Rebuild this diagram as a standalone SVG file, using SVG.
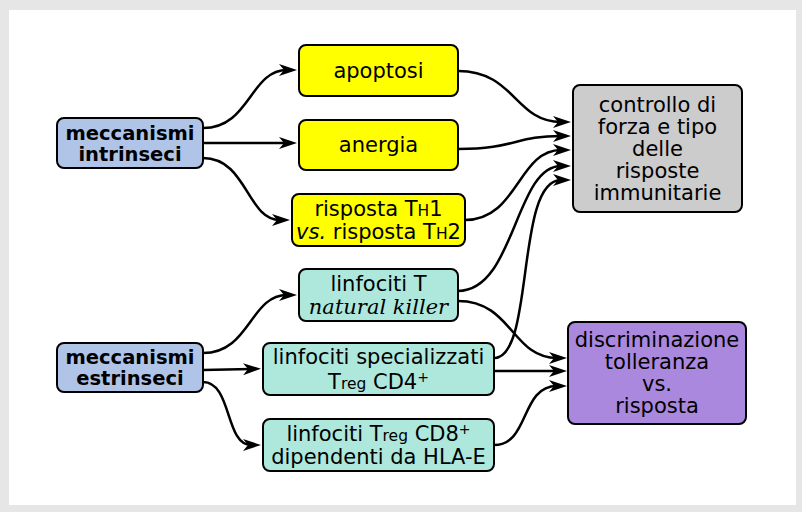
<svg xmlns="http://www.w3.org/2000/svg" width="802" height="512" viewBox="0 0 802 512">
<style>
text{font-family:"DejaVu Sans",sans-serif;font-size:21px;fill:#000;text-anchor:middle}
.b{font-weight:bold;font-size:19.5px}
.n rect{stroke:#000;stroke-width:2}
.blue{fill:#b0c4e8}.yel{fill:#ffff00}.teal{fill:#aee8dc}.gray{fill:#cccccc}.pur{fill:#aa88dd}
.c path{fill:none;stroke:#000;stroke-width:2.5}
.s{font-size:15.5px}
.sup{font-size:14px}
.ser{font-family:"DejaVu Serif",serif;font-style:italic}
.it{font-style:italic}
</style>
<defs>
<marker id="ah" markerUnits="userSpaceOnUse" markerWidth="20" markerHeight="14" viewBox="0 0 20 14" refX="8" refY="7" orient="auto">
<path d="M0,1 L18,7 L0,13 L5,7 z" fill="#000"/>
</marker>
</defs>
<rect x="0" y="0" width="802" height="512" fill="#e6e6e6"/>
<rect x="9" y="10" width="787" height="495" fill="#fff"/>
<g class="c">
<path d="M203,128 C250,128 250,70 287,70" marker-end="url(#ah)"/>
<path d="M203,143 L287,143" marker-end="url(#ah)"/>
<path d="M203,158 C247,158 247,220 280,220" marker-end="url(#ah)"/>
<path d="M458,71 C515,71 515,122 561,122" marker-end="url(#ah)"/>
<path d="M458,149 C515,149 515,136 561,136" marker-end="url(#ah)"/>
<path d="M465,220 C518,220 518,150 561,150" marker-end="url(#ah)"/>
<path d="M458,291 C515,291 515,166 561,166" marker-end="url(#ah)"/>
<path d="M494,358 C535,358 515,180 561,180" marker-end="url(#ah)"/>
<path d="M458,301 C512,301 512,358 557,358" marker-end="url(#ah)"/>
<path d="M494,371 L557,371" marker-end="url(#ah)"/>
<path d="M494,445 C530,445 520,386 557,386" marker-end="url(#ah)"/>
<path d="M203,353 C250,353 250,295 287,295" marker-end="url(#ah)"/>
<path d="M203,370 L251,369" marker-end="url(#ah)"/>
<path d="M203,382 C232,382 225,445 251,445" marker-end="url(#ah)"/>
</g>
<g id="intrinseci" class="n"><rect class="blue" x="57" y="118" width="146" height="50" rx="7"/><text class="b" x="130" y="140">meccanismi</text><text class="b" x="130" y="161">intrinseci</text></g>
<g id="apoptosi" class="n"><rect class="yel" x="299" y="45" width="159" height="51" rx="7"/><text x="378.5" y="78">apoptosi</text></g>
<g id="anergia" class="n"><rect class="yel" x="299" y="120" width="159" height="50" rx="7"/><text x="378.5" y="152">anergia</text></g>
<g id="risposta" class="n"><rect class="yel" x="292" y="194" width="173" height="52" rx="7"/><text x="378.5" y="216">risposta T<tspan class="s">H</tspan>1</text><text x="378.5" y="239"><tspan class="it">vs.</tspan> risposta T<tspan class="s">H</tspan>2</text></g>
<g id="nk" class="n"><rect class="teal" x="299" y="269" width="159" height="52" rx="7"/><text x="378.5" y="291">linfociti T</text><text class="ser" x="378.5" y="314">natural killer</text></g>
<g id="estrinseci" class="n"><rect class="blue" x="57" y="343" width="146" height="49" rx="7"/><text class="b" x="130" y="364">meccanismi</text><text class="b" x="130" y="385">estrinseci</text></g>
<g id="cd4" class="n"><rect class="teal" x="263" y="343" width="231" height="52" rx="7"/><text x="378.5" y="364">linfociti specializzati</text><text x="378.5" y="389">T<tspan class="s">reg</tspan> CD4<tspan class="sup" baseline-shift="7">+</tspan></text></g>
<g id="cd8" class="n"><rect class="teal" x="263" y="419" width="231" height="52" rx="7"/><text x="378.5" y="441">linfociti T<tspan class="s">reg</tspan> CD8<tspan class="sup" baseline-shift="7">+</tspan></text><text x="378.5" y="464">dipendenti da HLA-E</text></g>
<g id="controllo" class="n"><rect class="gray" x="573" y="85" width="169" height="127" rx="7"/><text x="657.5" y="112">controllo di</text><text x="657.5" y="134">forza e tipo</text><text x="657.5" y="156">delle</text><text x="657.5" y="178">risposte</text><text x="657.5" y="200">immunitarie</text></g>
<g id="discriminazione" class="n"><rect class="pur" x="568" y="322" width="178" height="102" rx="7"/><text x="657" y="347">discriminazione</text><text x="657" y="369">tolleranza</text><text x="657" y="391">vs.</text><text x="657" y="413">risposta</text></g>
</svg>
